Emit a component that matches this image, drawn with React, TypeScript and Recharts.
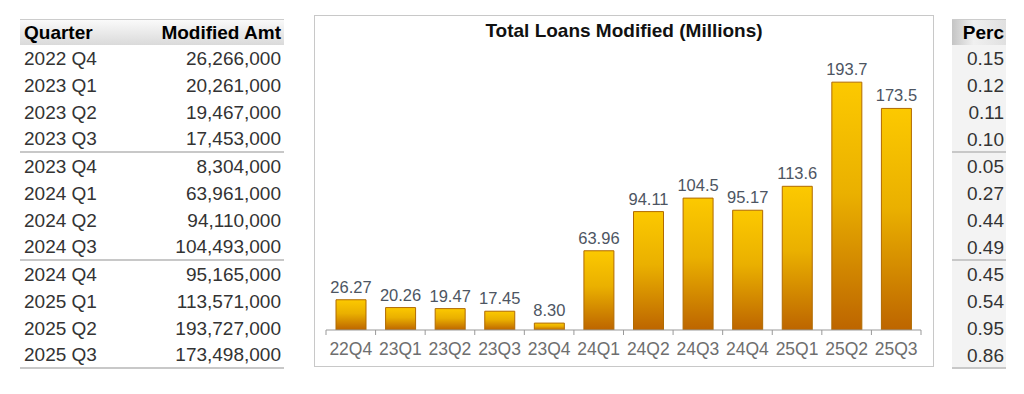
import { BarChart, Bar, XAxis, YAxis, LabelList } from "recharts";

const quarters = ["2022 Q4", "2023 Q1", "2023 Q2", "2023 Q3", "2023 Q4", "2024 Q1", "2024 Q2", "2024 Q3", "2024 Q4", "2025 Q1", "2025 Q2", "2025 Q3"];
const shortLabels = ["22Q4", "23Q1", "23Q2", "23Q3", "23Q4", "24Q1", "24Q2", "24Q3", "24Q4", "25Q1", "25Q2", "25Q3"];
const modifiedAmt = [26266000, 20261000, 19467000, 17453000, 8304000, 63961000, 94110000, 104493000, 95165000, 113571000, 193727000, 173498000];
const percs = ["0.15", "0.12", "0.11", "0.10", "0.05", "0.27", "0.44", "0.49", "0.45", "0.54", "0.95", "0.86"];

const chartData = shortLabels.map((q, i) => ({ q, value: modifiedAmt[i] / 1e6 }));

const FONT = "'Liberation Sans', Arial, sans-serif";
const CHART_W = 620;
const CHART_H = 352;
const MARGIN = { top: 46, right: 13, bottom: 7, left: 12 };
const BAND = (CHART_W - MARGIN.left - MARGIN.right) / shortLabels.length;

const fmt = (v: number) => (v >= 100 ? v.toFixed(1) : v.toFixed(2));

const AxisTick = ({ x, y, payload, index }: any) => (
  <g>
    <line x1={x - BAND / 2} x2={x - BAND / 2} y1={y - 8} y2={y - 3} stroke="#999" />
    {index === shortLabels.length - 1 && (
      <line x1={x + BAND / 2} x2={x + BAND / 2} y1={y - 8} y2={y - 3} stroke="#999" />
    )}
    <text x={x} y={y + 17} textAnchor="middle" fill="#6e6e6e" fontSize={17.5} fontFamily={FONT}>
      {payload.value}
    </text>
  </g>
);

const rowH = 27;

const Table = ({ left, width, children }: any) => (
  <div style={{ position: "absolute", left, top: 19, width, fontFamily: FONT, fontSize: 19 }}>{children}</div>
);

const App = () => {
  return (
    <div style={{ position: "absolute", left: 0, top: 0, width: 1024, height: 394, background: "#fff", overflow: "hidden" }}>
      <Table left={20} width={264}>
        <div style={{ height: 26, display: "flex", justifyContent: "space-between", alignItems: "center", fontWeight: "bold", color: "#000", background: "linear-gradient(#fafafa, #dadada)", borderTop: "1px solid #ccc", padding: "0 3px 0 4px", boxSizing: "border-box" }}>
          <span>Quarter</span>
          <span>Modified Amt</span>
        </div>
        {quarters.map((q, i) => (
          <div key={q} style={{ height: rowH, display: "flex", justifyContent: "space-between", alignItems: "center", color: "#333", padding: "0 3px 0 4px", boxSizing: "border-box", borderBottom: i % 4 === 3 ? "2px solid #c8c8c8" : "none" }}>
            <span>{q}</span>
            <span>{modifiedAmt[i].toLocaleString("en-US")}</span>
          </div>
        ))}
      </Table>

      <div style={{ position: "absolute", left: 314, top: 15, width: CHART_W, height: CHART_H, border: "1px solid #c8c8c8", boxSizing: "border-box" }}>
        <div style={{ position: "absolute", left: 0, right: 0, top: 4, textAlign: "center", fontFamily: FONT, fontWeight: "bold", fontSize: 19, color: "#111" }}>
          Total Loans Modified (Millions)
        </div>
        <div style={{ position: "absolute", left: -1, top: -1 }}>
          <BarChart width={CHART_W} height={CHART_H} data={chartData} margin={MARGIN} barSize={30}>
            <defs>
              <linearGradient id="gold" x1="0" y1="0" x2="0" y2="1">
                <stop offset="0%" stopColor="#fcc900" />
                <stop offset="45%" stopColor="#eab000" />
                <stop offset="100%" stopColor="#bd6500" />
              </linearGradient>
            </defs>
            <XAxis dataKey="q" tickLine={false} axisLine={{ stroke: "#999" }} height={30} interval={0} tick={<AxisTick />} />
            <YAxis hide domain={[3, 210]} allowDataOverflow />
            <Bar dataKey="value" fill="url(#gold)" stroke="#b06a00" strokeWidth={1} isAnimationActive={false}>
              <LabelList dataKey="value" position="top" offset={7} formatter={(v: any) => fmt(Number(v))} fill="#4d5562" fontSize={16.5} fontFamily={FONT} />
            </Bar>
          </BarChart>
        </div>
      </div>

      <Table left={952} width={54}>
        <div style={{ height: 26, textAlign: "right", lineHeight: "26px", fontWeight: "bold", color: "#000", background: "linear-gradient(90deg, #c4c4c4, #f0f0f0 40%, #e0e0e0)", borderTop: "1px solid #ccc", padding: "0 2px", boxSizing: "border-box", overflow: "hidden", whiteSpace: "nowrap" }}>
          Perc
        </div>
        {percs.map((p, i) => (
          <div key={i} style={{ height: rowH, lineHeight: `${rowH}px`, textAlign: "right", color: "#333", background: "#f3f3f3", padding: "0 2px", boxSizing: "border-box", borderBottom: i % 4 === 3 ? "2px solid #c8c8c8" : "none" }}>
            {p}
          </div>
        ))}
      </Table>
    </div>
  );
};

export default App;
